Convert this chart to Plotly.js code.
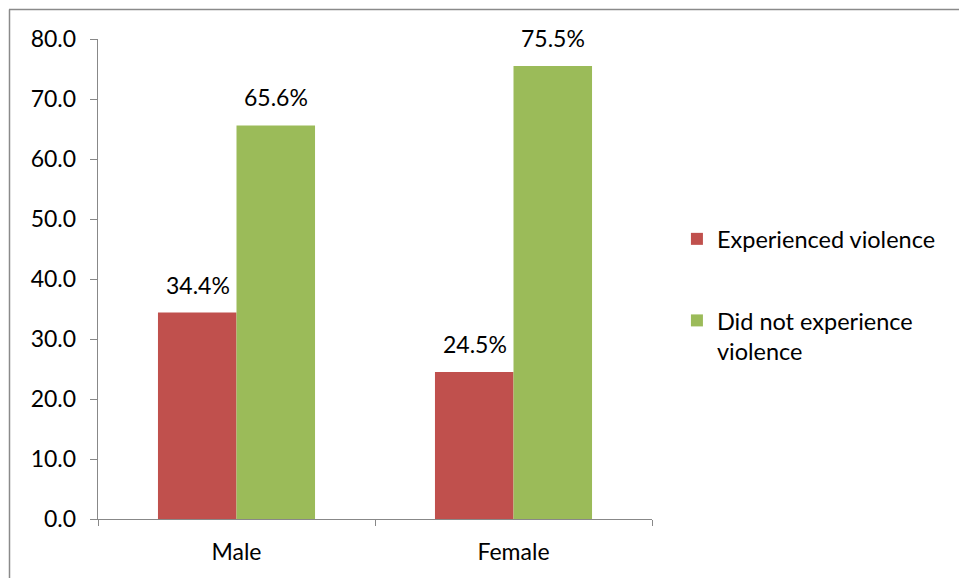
<!DOCTYPE html>
<html>
<head>
<meta charset="utf-8">
<script src="https://cdn.plot.ly/plotly-3.0.1.min.js"></script>
<style>html,body{margin:0;padding:0;background:#fff;}#chart{width:959px;height:578px;}</style>
</head>
<body>
<div id="chart"></div>
<script>
const categories = ["Male", "Female"];
const experienced = [34.4, 24.5];
const notExperienced = [65.6, 75.5];
const seriesNames = ["Experienced violence", "Did not experience<br>violence"];
const yTicks = [0, 10, 20, 30, 40, 50, 60, 70, 80];

const FONT = "Lato, 'Liberation Sans', sans-serif";
const red = "#C0504D", green = "#9BBB59";

const traces = [
  {type: "bar", x: categories, y: experienced, name: seriesNames[0], marker: {color: red}, legendgroup: "a", hoverinfo: "none"},
  {type: "bar", x: categories, y: notExperienced, name: seriesNames[1], marker: {color: green}, legendgroup: "b", hoverinfo: "none"}
];

const annotations = [];
[experienced, notExperienced].forEach((vals, si) => {
  vals.forEach((v, i) => {
    annotations.push({
      x: categories[i], y: v, xref: "x", yref: "y",
      text: v.toFixed(1) + "%", showarrow: false,
      xshift: si === 0 ? -39 : 39, yshift: 28, yanchor: "middle",
      font: {family: FONT, size: 23, color: "#000"}
    });
  });
});

const layout = {
  width: 959, height: 578,
  margin: {l: 98, r: 307, t: 39, b: 59},
  paper_bgcolor: "#fff", plot_bgcolor: "#fff",
  font: {family: FONT, size: 23, color: "#000"},
  barmode: "group", bargap: 0.433, bargroupgap: 0,
  showlegend: true,
  legend: {x: 1.045, y: 0.629, xanchor: "left", yanchor: "top", tracegroupgap: 48,
           traceorder: "grouped", font: {family: FONT, size: 23.5, color: "#000"},
           itemwidth: 30, valign: "top"},
  xaxis: {type: "category", showline: true, linecolor: "#888", linewidth: 1.3,
          ticks: "outside", tickson: "boundaries", ticklen: 6, tickcolor: "#888",
          showgrid: false, ticklabelstandoff: 12, fixedrange: true},
  yaxis: {range: [0, 80], tickvals: yTicks, ticktext: yTicks.map(t => t.toFixed(1)),
          showline: true, linecolor: "#888", linewidth: 1.3, ticks: "outside",
          ticklen: 7, tickcolor: "#888", showgrid: false, zeroline: false,
          ticklabelstandoff: 9, fixedrange: true},
  annotations: annotations,
  shapes: [
    {type: "line", xref: "paper", yref: "paper", x0: (9 - 98) / 554, x1: (962 - 98) / 554,
     y0: (519 - 9.5) / 480, y1: (519 - 9.5) / 480, line: {color: "#8a8a8a", width: 1.5}},
    {type: "line", xref: "paper", yref: "paper", x0: (9.5 - 98) / 554, x1: (9.5 - 98) / 554,
     y0: (519 - 9.5) / 480, y1: (519 - 582) / 480, line: {color: "#8a8a8a", width: 1.5}}
  ]
};

Plotly.newPlot("chart", traces, layout, {displayModeBar: false, staticPlot: true});
</script>
</body>
</html>
